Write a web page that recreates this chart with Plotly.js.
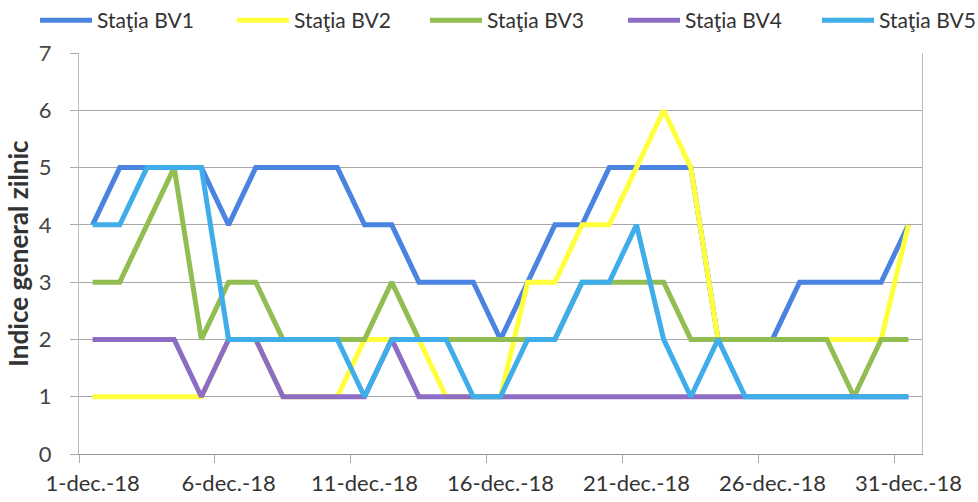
<!DOCTYPE html>
<html>
<head>
<meta charset="utf-8">
<script src="https://cdn.plot.ly/plotly-3.0.1.min.js"></script>
<style>
  html, body { margin: 0; padding: 0; background: #ffffff; }
  #chart { width: 978px; height: 502px; }
</style>
</head>
<body>
<div id="chart"></div>
<script>
const categories = [
  "1-dec.-18","2-dec.-18","3-dec.-18","4-dec.-18","5-dec.-18","6-dec.-18","7-dec.-18","8-dec.-18","9-dec.-18","10-dec.-18",
  "11-dec.-18","12-dec.-18","13-dec.-18","14-dec.-18","15-dec.-18","16-dec.-18","17-dec.-18","18-dec.-18","19-dec.-18","20-dec.-18",
  "21-dec.-18","22-dec.-18","23-dec.-18","24-dec.-18","25-dec.-18","26-dec.-18","27-dec.-18","28-dec.-18","29-dec.-18","30-dec.-18",
  "31-dec.-18"
];
const seriesNames = ["Staţia BV1", "Staţia BV2", "Staţia BV3", "Staţia BV4", "Staţia BV5"];
const bv1 = [4,5,5,5,5,4,5,5,5,5, 4,4,3,3,3,2,3,4,4,5, 5,5,5,2,2,2,3,3,3,3, 4];
const bv2 = [1,1,1,1,1,2,2,1,1,1, 2,2,2,1,1,1,3,3,4,4, 5,6,5,2,2,2,2,2,2,2, 4];
const bv3 = [3,3,4,5,2,3,3,2,2,2, 2,3,2,2,2,2,2,2,3,3, 3,3,2,2,2,2,2,2,1,2, 2];
const bv4 = [2,2,2,2,1,2,2,1,1,1, 1,2,1,1,1,1,1,1,1,1, 1,1,1,1,1,1,1,1,1,1, 1];
const bv5 = [4,4,5,5,5,2,2,2,2,2, 1,2,2,2,1,1,2,2,3,3, 4,2,1,2,1,1,1,1,1,1, 1];
const yTitle = "Indice general zilnic";

const colors = ["#4a84e0", "#ffff3c", "#92bd52", "#8c6cc4", "#3fadea"];
const allValues = [bv1, bv2, bv3, bv4, bv5];
const legendIds = ["legend", "legend2", "legend3", "legend4", "legend5"];
const legendX = [35, 232, 425, 623, 817];

const FONT = "Lato, 'Noto Sans', sans-serif";

const traces = allValues.map((vals, i) => ({
  type: "scatter",
  mode: "lines",
  x: categories,
  y: vals,
  name: seriesNames[i],
  legend: legendIds[i],
  line: { color: colors[i], width: 5 }
}));

const layout = {
  width: 978,
  height: 502,
  paper_bgcolor: "#ffffff",
  plot_bgcolor: "#ffffff",
  margin: { l: 79, r: 56, t: 53, b: 48, autoexpand: false },
  font: { family: FONT, color: "#444444" },
  showlegend: true,
  xaxis: {
    type: "category",
    range: [-0.5, 30.5],
    dtick: 5,
    tickson: "boundaries",
    tickangle: 0,
    ticks: "outside",
    ticklen: 8,
    tickcolor: "#aaaaaa",
    showgrid: false,
    showline: true,
    linecolor: "#999999",
    linewidth: 1,
    ticklabelstandoff: 10,
    tickfont: { family: FONT, size: 22, color: "#333333" },
    zeroline: false
  },
  yaxis: {
    range: [0, 7],
    dtick: 1,
    ticks: "outside",
    ticklen: 8,
    tickcolor: "#aaaaaa",
    showgrid: true,
    gridcolor: "#a8a8a8",
    gridwidth: 1,
    showline: true,
    mirror: true,
    linecolor: "#bbbbbb",
    linewidth: 1,
    zeroline: false,
    ticklabelstandoff: 14,
    tickfont: { family: FONT, size: 22, color: "#444444" },
    title: {
      text: yTitle,
      font: { family: FONT, size: 26, color: "#333333", weight: "bold" },
      standoff: 2
    }
  }
};

legendIds.forEach((id, i) => {
  layout[id] = {
    orientation: "h",
    xref: "container", yref: "container",
    x: legendX[i] / 978, y: 1.0, xanchor: "left", yanchor: "top",
    font: { family: FONT, size: 21, color: "#333333" },
    itemwidth: 52,
    bgcolor: "rgba(0,0,0,0)"
  };
});

Plotly.newPlot("chart", traces, layout, { displayModeBar: false, staticPlot: true });
</script>
</body>
</html>
